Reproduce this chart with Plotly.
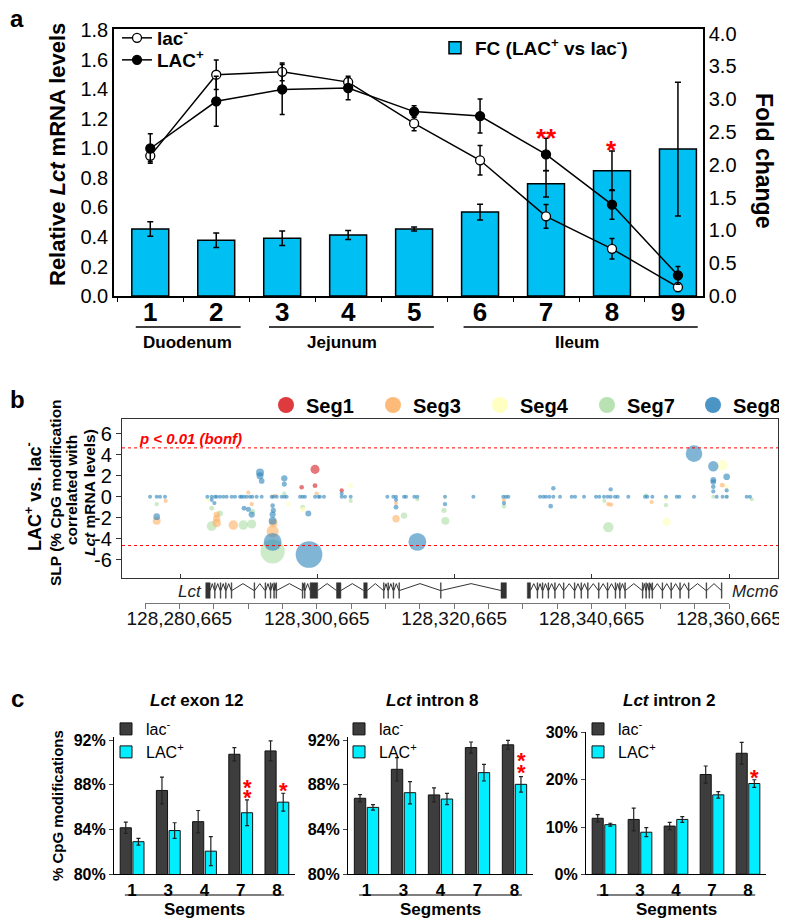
import plotly.graph_objects as go

# The page body adds an 8px margin, so the figure is drawn 8px in from the window edge.
OFF = 8
W, H = 787 - OFF, 924 - OFF
FONT = "Liberation Sans, Arial, Helvetica, sans-serif"


def X(px):
    return (px - OFF) / W


def Y(py):
    return 1 - (py - OFF) / H


# ---------------- Panel a data ----------------
seg_a = [1, 2, 3, 4, 5, 6, 7, 8, 9]
lac_minus = [0.95, 1.50, 1.52, 1.45, 1.17, 0.92, 0.54, 0.32, 0.06]
lac_minus_err = [0.04, 0.10, 0.06, 0.03, 0.05, 0.10, 0.08, 0.07, 0.03]
lac_plus = [1.00, 1.32, 1.40, 1.41, 1.25, 1.22, 0.96, 0.62, 0.14]
lac_plus_err = [0.10, 0.17, 0.17, 0.08, 0.04, 0.115, 0.11, 0.10, 0.06]
fold_change = [1.02, 0.85, 0.88, 0.93, 1.02, 1.28, 1.71, 1.91, 2.24]
fold_change_err = [0.11, 0.11, 0.11, 0.07, 0.03, 0.12, 0.20, 0.30, 1.02]
left_ticks = [0.0, 0.2, 0.4, 0.6, 0.8, 1.0, 1.2, 1.4, 1.6, 1.8]
right_ticks = [0.0, 0.5, 1.0, 1.5, 2.0, 2.5, 3.0, 3.5, 4.0]
regions = ["Duodenum", "Jejunum", "Ileum"]

# ---------------- Panel b data (genomic position, SLP) ----------------
seg1_pos = [128298390, 128300330, 128300330, 128304220]
seg1_slp = [0.9, 1.05, 2.6, 0.6]

seg3_pos = [128278580, 128277270, 128286010, 128286010, 128286010, 128288430,
            128290620, 128291110, 128294260, 128294160, 128294500, 128300570,
            128312130, 128312130, 128327860, 128343060, 128343450, 128349370,
            128359660]
seg3_slp = [-0.4, -2.3, -1.7, -2.1, -2.5, -2.7,
            0.4, -0.7, -2.5, -3.3, 0.1, 0.3,
            -0.6, -2.1, -0.3, -0.7, -0.75, -0.5,
            1.1]

seg4_pos = [128284650, 128296450, 128298530, 128305530, 128319270, 128351460,
            128351560, 128359660, 128360300]
seg4_slp = [-0.3, -0.7, -1.2, 1.05, -0.05, -0.25, -2.4, 3.0, 0.95]

seg7_pos = [128277270, 128285280, 128286490, 128285280, 128289890, 128291200,
            128291110, 128294160, 128295860, 128298530, 128305530, 128313300,
            128315240, 128319120, 128319320, 128327860, 128342480, 128343060,
            128348550, 128351460, 128358350, 128360300, 128363940]
seg7_slp = [-0.7, -1.1, -1.6, -2.8, -2.7, -1.4,
            -2.6, -5.2, 0.3, -1.0, -0.4, -1.8,
            -0.25, -1.3, -2.3, -0.9, -0.4, -2.9,
            0.15, -0.8, 0.0, 0.0, -0.25]

seg8_pos = [128276300, 128277270, 128277750, 128278480,
            128284650, 128285280, 128285760, 128286010, 128286490, 128286980,
            128287460, 128288190, 128288680, 128289410, 128289650, 128289990,
            128290380, 128290860, 128291200, 128291830, 128292560,
            128294020, 128294260, 128294750, 128295480, 128295860, 128296200,
            128298150, 128298530, 128298870,
            128300330, 128300820, 128301060, 128301640,
            128304220, 128304700, 128305530,
            128310870, 128311740, 128312130, 128313300, 128313590, 128314800, 128315240,
            128319270, 128323400, 128327760, 128328150, 128328490,
            128333110, 128333590, 128333980, 128334470, 128335050, 128336020,
            128337720, 128338210, 128339520, 128341260, 128341750, 128342430,
            128342960, 128343400, 128344030, 128344420, 128345970,
            128348400, 128348740, 128349470, 128351460, 128353020, 128353400, 128355540,
            128358840, 128359710, 128360300,
            128363210, 128363690,
            # non-zero values
            128277270, 128285280, 128285670, 128289990, 128290620, 128291110,
            128292320, 128292320, 128292560, 128294160, 128294260, 128294160,
            128294160, 128294160, 128295860, 128295860, 128299360, 128299460,
            128304220, 128312130, 128312130, 128315240, 128319270, 128327860,
            128334660, 128335050, 128343400, 128355540, 128358350, 128358350,
            128358350, 128358350, 128358350, 128360300, 128360300]
seg8_slp = [0.0] * 78 + [
    -1.9, -0.3, -0.6, -1.1, -1.2, -1.7,
    2.3, 2.0, 1.5, -0.85, -1.3, -1.7,
    -2.3, -4.3, 1.75, 1.2, -1.6, -5.5,
    0.3, -0.3, -1.0, -4.3, -0.7, -0.6,
    -0.9, 0.8, 0.7, 4.1, 2.9, 1.6,
    1.4, 0.95, 0.5, 1.9, 0.6]

bonf_threshold = 4.65
slp_ticks = [6, 4, 2, 0, -2, -4, -6]
ruler_labels = [128280665, 128300665, 128320665, 128340665, 128360665]

# gene models (exon start, exon end)
lct_exon_start = [128284510, 128285780, 128286610, 128287380, 128288210, 128291530,
                  128293130, 128293890, 128294400, 128294720, 128298550, 128298870,
                  128299700, 128303540, 128307500, 128310370, 128311010, 128311780,
                  128312610, 128318670, 128327480]
lct_exon_end = [128285150, 128285880, 128286710, 128287480, 128288310, 128291630,
                128293230, 128293990, 128294500, 128294820, 128298650, 128298970,
                128300800, 128304180, 128308010, 128310470, 128311110, 128311880,
                128312710, 128318770, 128328260]
mcm6_exon_start = [128331310, 128332730, 128333490, 128334320, 128335280, 128336560,
                   128338150, 128339110, 128340070, 128341660, 128342940, 128344090,
                   128344730, 128345490, 128348040, 128348550, 128349010, 128349450,
                   128350920, 128352200, 128353490, 128354750, 128357320, 128359550]
mcm6_exon_end = [128331770, 128332830, 128333590, 128334420, 128335380, 128336660,
                 128338250, 128339210, 128340170, 128341760, 128343040, 128344190,
                 128344830, 128345590, 128348140, 128348650, 128349110, 128349550,
                 128351020, 128352300, 128353590, 128354850, 128357420, 128359650]

# ---------------- Panel c data ----------------
c_segments = ["1", "3", "4", "7", "8"]
exon12_lac_minus = [84.15, 87.5, 84.7, 90.75, 91.05]
exon12_lac_minus_err = [0.5, 1.2, 1.0, 0.6, 0.9]
exon12_lac_plus = [82.9, 83.9, 82.05, 85.5, 86.45]
exon12_lac_plus_err = [0.3, 0.7, 1.3, 1.15, 0.8]
intron8_lac_minus = [86.8, 89.4, 87.1, 91.35, 91.6]
intron8_lac_minus_err = [0.33, 1.05, 0.63, 0.5, 0.4]
intron8_lac_plus = [85.98, 87.3, 86.73, 89.1, 88.05]
intron8_lac_plus_err = [0.25, 1.0, 0.5, 0.75, 0.7]
intron2_lac_minus = [11.85, 11.6, 10.2, 21.1, 25.6]
intron2_lac_minus_err = [0.78, 2.4, 0.78, 1.8, 2.3]
intron2_lac_plus = [10.5, 8.9, 11.6, 16.8, 19.2]
intron2_lac_plus_err = [0.3, 0.95, 0.6, 0.7, 0.8]

# ---------------- Figure ----------------
fig = go.Figure()
BLACK = "black"

# Panel a
fig.add_trace(go.Bar(
    x=seg_a, y=fold_change, width=0.56,
    marker=dict(color="#00BFF3", line=dict(color=BLACK, width=1.5)),
    error_y=dict(type="data", array=fold_change_err, color=BLACK, thickness=1.5, width=3),
    name="FC (LAC<sup>+</sup> vs lac<sup>-</sup>)", xaxis="x", yaxis="y", legend="legend2"))
fig.add_trace(go.Scatter(
    x=seg_a, y=lac_minus, mode="lines+markers", name="lac<sup>-</sup>",
    line=dict(color=BLACK, width=1.5),
    marker=dict(symbol="circle", size=9, color="white", line=dict(color=BLACK, width=1.3)),
    error_y=dict(type="data", array=lac_minus_err, color=BLACK, thickness=1.5, width=2.5),
    xaxis="x", yaxis="y2", legend="legend"))
fig.add_trace(go.Scatter(
    x=seg_a, y=lac_plus, mode="lines+markers", name="LAC<sup>+</sup>",
    line=dict(color=BLACK, width=1.5),
    marker=dict(symbol="circle", size=9, color=BLACK, line=dict(color=BLACK, width=1.3)),
    error_y=dict(type="data", array=lac_plus_err, color=BLACK, thickness=1.5, width=2.5),
    xaxis="x", yaxis="y2", legend="legend4"))

# Panel b scatter
seg_names = ["Seg1", "Seg3", "Seg4", "Seg7", "Seg8"]
seg_colors = {
    "Seg1": "rgba(215,25,28,0.85)",
    "Seg3": "rgba(253,174,97,0.85)",
    "Seg4": "rgba(255,255,191,0.95)",
    "Seg7": "rgba(171,221,164,0.85)",
    "Seg8": "rgba(43,131,186,0.85)",
}
seg_data = {
    "Seg1": (seg1_pos, seg1_slp),
    "Seg3": (seg3_pos, seg3_slp),
    "Seg4": (seg4_pos, seg4_slp),
    "Seg7": (seg7_pos, seg7_slp),
    "Seg8": (seg8_pos, seg8_slp),
}


def marker_size(v):
    return 4 + 0.75 * v * v


for name in ["Seg7", "Seg4", "Seg3", "Seg1", "Seg8"]:
    pos, slp = seg_data[name]
    fig.add_trace(go.Scatter(
        x=pos, y=slp, mode="markers", showlegend=False, name=name,
        marker=dict(size=[marker_size(v) for v in slp], color=seg_colors[name], line=dict(width=0)),
        xaxis="x2", yaxis="y3"))
seg_legends = ["legend11", "legend12", "legend13", "legend14", "legend15"]
for name, lg in zip(seg_names, seg_legends):
    fig.add_trace(go.Scatter(
        x=[None], y=[None], mode="markers", name=name, showlegend=True,
        marker=dict(size=17, color=seg_colors[name], line=dict(width=0)),
        xaxis="x2", yaxis="y3", legend=lg))

# Gene track
EXH = 0.62
HAT = 0.55


def gene_shapes(starts, ends):
    ex, ey, ix, iy = [], [], [], []
    for s, e in zip(starts, ends):
        ex += [s, e, e, s, s, None]
        ey += [-EXH, -EXH, EXH, EXH, -EXH, None]
    for i in range(len(starts) - 1):
        a, b = ends[i], starts[i + 1]
        ix += [a, (a + b) / 2, b, None]
        iy += [0, HAT, 0, None]
    return ex, ey, ix, iy


for starts, ends in [(lct_exon_start, lct_exon_end), (mcm6_exon_start, mcm6_exon_end)]:
    ex, ey, ix, iy = gene_shapes(starts, ends)
    fig.add_trace(go.Scatter(x=ix, y=iy, mode="lines", line=dict(color="#333333", width=1),
                             showlegend=False, xaxis="x3", yaxis="y4", hoverinfo="skip"))
    fig.add_trace(go.Scatter(x=ex, y=ey, mode="lines", fill="toself", fillcolor="#333333",
                             line=dict(color="#333333", width=0.5),
                             showlegend=False, xaxis="x3", yaxis="y4", hoverinfo="skip"))

# Panel c
DARK = "#3d3d3d"
CYAN = "#00EEFF"
panel_c = [
    ("x4", "y5", "legend5", "legend6", exon12_lac_minus, exon12_lac_minus_err, exon12_lac_plus, exon12_lac_plus_err),
    ("x5", "y6", "legend7", "legend8", intron8_lac_minus, intron8_lac_minus_err, intron8_lac_plus, intron8_lac_plus_err),
    ("x6", "y7", "legend9", "legend10", intron2_lac_minus, intron2_lac_minus_err, intron2_lac_plus, intron2_lac_plus_err),
]
for xa, ya, lg1, lg2, m, me, p, pe in panel_c:
    fig.add_trace(go.Bar(x=c_segments, y=m, name="lac<sup>-</sup>",
                         marker=dict(color=DARK, line=dict(color="#111111", width=1)),
                         error_y=dict(type="data", array=me, color="#222222", thickness=1.2, width=2),
                         xaxis=xa, yaxis=ya, legend=lg1))
    fig.add_trace(go.Bar(x=c_segments, y=p, name="LAC<sup>+</sup>",
                         marker=dict(color=CYAN, line=dict(color="#111111", width=1)),
                         error_y=dict(type="data", array=pe, color="#222222", thickness=1.2, width=2),
                         xaxis=xa, yaxis=ya, legend=lg2))

# ---------------- Layout ----------------
axis_common = dict(showgrid=False, zeroline=False)


def fmt1(v):
    return f"{v:.1f}"


def pct_axis(domain, anchor, rng, vals):
    return dict(domain=domain, anchor=anchor, range=rng, tickvals=vals,
                ticktext=[f"{v}%" for v in vals], ticks="outside", ticklen=4,
                tickfont=dict(size=16, weight="bold"),
                showline=True, linecolor=BLACK, linewidth=1.2, **axis_common)


def cat_axis(domain, anchor):
    return dict(domain=domain, anchor=anchor, type="category", ticks="",
                tickmode="array", tickvals=c_segments, ticktext=c_segments,
                tickfont=dict(size=17, weight="bold"),
                showline=True, linecolor=BLACK, linewidth=1.2, **axis_common)


def one_legend(px, py, size, bold):
    return dict(x=X(px), y=Y(py), xanchor="left", yanchor="middle", bgcolor="rgba(0,0,0,0)",
                font=dict(size=size, weight="bold" if bold else "normal"))


layout = dict(
    width=W, height=H, margin=dict(l=0, r=0, t=0, b=0, autoexpand=False),
    paper_bgcolor="white", plot_bgcolor="rgba(0,0,0,0)",
    font=dict(family=FONT, color=BLACK),
    barmode="group", bargap=0.3, bargroupgap=0.12,
    # panel a
    xaxis=dict(domain=[X(114), X(703)], anchor="y", range=[0.45, 9.38],
               tickvals=seg_a, ticks="", tickfont=dict(size=26, weight="bold"),
               ticklabelstandoff=-8,
               showline=True, linecolor=BLACK, linewidth=1.5, mirror=True,
               minor=dict(ticks="outside", ticklen=4, tickcolor=BLACK, tick0=0.5, dtick=1, showgrid=False),
               **axis_common),
    yaxis=dict(domain=[Y(296), Y(29)], anchor="x", side="right", range=[0, 4.07],
               tickvals=right_ticks, ticktext=[fmt1(v) for v in right_ticks], ticks="",
               tickfont=dict(size=20), showline=True, linecolor=BLACK, linewidth=1.5,
               **axis_common),
    yaxis2=dict(overlaying="y", anchor="x", side="left", range=[0, 1.81],
                tickvals=left_ticks, ticktext=[fmt1(v) for v in left_ticks], ticks="",
                tickfont=dict(size=20), showline=True, linecolor=BLACK, linewidth=1.5,
                **axis_common),
    # panel b
    xaxis2=dict(domain=[X(122), X(778)], anchor="y3", range=[128272216, 128367776],
                showline=True, mirror=True, linecolor="#333333", linewidth=1.2,
                ticks="inside", ticklen=4, tickcolor="#333333", tickvals=ruler_labels,
                showticklabels=False, **axis_common),
    yaxis3=dict(domain=[Y(578), Y(419)], anchor="x2", range=[-7.74, 7.4],
                tickvals=slp_ticks, ticktext=[str(v) for v in slp_ticks],
                ticks="outside", ticklen=5, tickcolor="#333333", tickfont=dict(size=20),
                showline=True, mirror=True, linecolor="#333333", linewidth=1.2,
                **axis_common),
    # gene track + ruler
    xaxis3=dict(domain=[X(145), X(729)], anchor="y4", range=[128275665, 128360665],
                showline=True, linecolor="#777777", linewidth=1,
                ticks="outside", ticklen=5, tickcolor="#777777",
                tickvals=ruler_labels, ticktext=[f"{v:,}" for v in ruler_labels],
                tickfont=dict(size=19, color="#111111"), ticklabelstandoff=-7,
                minor=dict(ticks="outside", ticklen=5, tickcolor="#777777", tick0=128275665,
                           dtick=5000, showgrid=False),
                **axis_common),
    yaxis4=dict(domain=[Y(603), Y(578)], anchor="x3", range=[-1, 1], visible=False, **axis_common),
    # panel c
    xaxis4=cat_axis([X(114), X(295)], "y5"),
    xaxis5=cat_axis([X(348), X(533)], "y6"),
    xaxis6=cat_axis([X(586), X(766)], "y7"),
    yaxis5=pct_axis([Y(874), Y(737)], "x4", [80, 92.3], [80, 84, 88, 92]),
    yaxis6=pct_axis([Y(874), Y(737)], "x5", [80, 92.3], [80, 84, 88, 92]),
    yaxis7=pct_axis([Y(874.3), Y(731.5)], "x6", [0, 30.2], [0, 10, 20, 30]),
    # legends
    legend=one_legend(117, 38, 19, True),
    legend4=one_legend(117, 60, 19, True),
    legend2=one_legend(435, 48, 19, True),
    legend5=one_legend(106, 729, 16, False),
    legend6=one_legend(106, 752, 16, False),
    legend7=one_legend(339, 729, 16, False),
    legend8=one_legend(339, 752, 16, False),
    legend9=one_legend(578, 729, 16, False),
    legend10=one_legend(578, 752, 16, False),
)
for lg, cx in zip(seg_legends, [285, 392, 499, 606, 712]):
    layout[lg] = one_legend(cx - 19, 405, 20, True)
fig.update_layout(**layout)

# ---------------- Annotations & decorations ----------------
ann = []


def txt(text, x, y, size, xref="paper", yref="paper", bold=True, italic=False, color=BLACK,
        angle=0, xanchor="center", yanchor="middle", xshift=0, yshift=0):
    ann.append(dict(text=text, x=x, y=y, xref=xref, yref=yref, showarrow=False,
                    font=dict(size=size, color=color, weight="bold" if bold else "normal",
                              style="italic" if italic else "normal"),
                    textangle=angle, xanchor=xanchor, yanchor=yanchor, xshift=xshift, yshift=yshift))


# panel labels
txt("a", X(17), Y(19), 24)
txt("b", X(17), Y(399), 24)
txt("c", X(17), Y(698), 24)

# panel a
txt("Relative <i>Lct</i> mRNA levels", X(57), Y(155), 22, angle=-90)
txt("Fold change", X(764), Y(160), 23, angle=90)
region_x = [1.57, 3.9, 7.47]
for name, rx in zip(regions, region_x):
    txt(name, rx, Y(342), 17, xref="x")
txt("**", 7, 1.12, 26, xref="x", yref="y2", color="red", yshift=-7)
txt("*", 8, 1.04, 26, xref="x", yref="y2", color="red", yshift=-7)

# panel b
txt("LAC<sup>+</sup> vs. lac<sup>-</sup>", X(33), Y(497), 18, angle=-90)
txt("SLP (% CpG modification", X(55), Y(493), 15.5, angle=-90)
txt("correlated with", X(72), Y(490), 15.5, angle=-90)
txt("<i>Lct</i> mRNA levels)", X(89), Y(493), 15.5, angle=-90)
txt("p < 0.01 (bonf)", X(137), Y(438), 15, italic=True, color="red", xanchor="left")
txt("Lct", X(204), Y(591), 17, bold=False, italic=True, color="#222222", xanchor="right")
txt("Mcm6", X(730), Y(591), 17, bold=False, italic=True, color="#222222", xanchor="left")

# panel c
txt("<i>Lct</i> exon 12", X(197), Y(700), 17)
txt("<i>Lct</i> intron 8", X(432), Y(700), 17)
txt("<i>Lct</i> intron 2", X(669), Y(700), 17)
txt("% CpG modifications", X(57), Y(806), 15, angle=-90)
for xa in ["x4", "x5", "x6"]:
    txt("Segments", 0.5, Y(909), 17, xref=f"{xa} domain")
# significance marks over LAC+ bars (category index 3 -> "7", 4 -> "8")
txt("*", 3, 88.25, 22, xref="x4", yref="y5", color="red", xshift=6.5, yshift=-5)
txt("*", 3, 87.35, 22, xref="x4", yref="y5", color="red", xshift=6.5, yshift=-5)
txt("*", 4, 87.98, 22, xref="x4", yref="y5", color="red", xshift=6.5, yshift=-5)
txt("*", 4, 90.67, 22, xref="x5", yref="y6", color="red", xshift=6.5, yshift=-5)
txt("*", 4, 89.6, 22, xref="x5", yref="y6", color="red", xshift=6.5, yshift=-5)
txt("*", 4, 21.6, 22, xref="x6", yref="y7", color="red", xshift=6.5, yshift=-5)

shapes = []
# panel a region underlines
for x0, x1 in [(0.78, 2.37), (2.8, 5.3), (5.75, 9.3)]:
    shapes.append(dict(type="line", xref="x", yref="paper", x0=x0, x1=x1, y0=Y(327), y1=Y(327),
                       line=dict(color=BLACK, width=1.5)))
# bonferroni lines
for yv in [bonf_threshold, -bonf_threshold]:
    shapes.append(dict(type="line", xref="x2 domain", yref="y3", x0=0, x1=1, y0=yv, y1=yv,
                       line=dict(color="red", width=1, dash="dot")))
# panel c underlines
for xa in ["x4", "x5", "x6"]:
    shapes.append(dict(type="line", xref=xa, yref="paper", x0=-0.2, x1=4.2, y0=Y(895), y1=Y(895),
                       line=dict(color=BLACK, width=1.2)))

fig.update_layout(annotations=ann, shapes=shapes)
fig.write_html("out.html")
